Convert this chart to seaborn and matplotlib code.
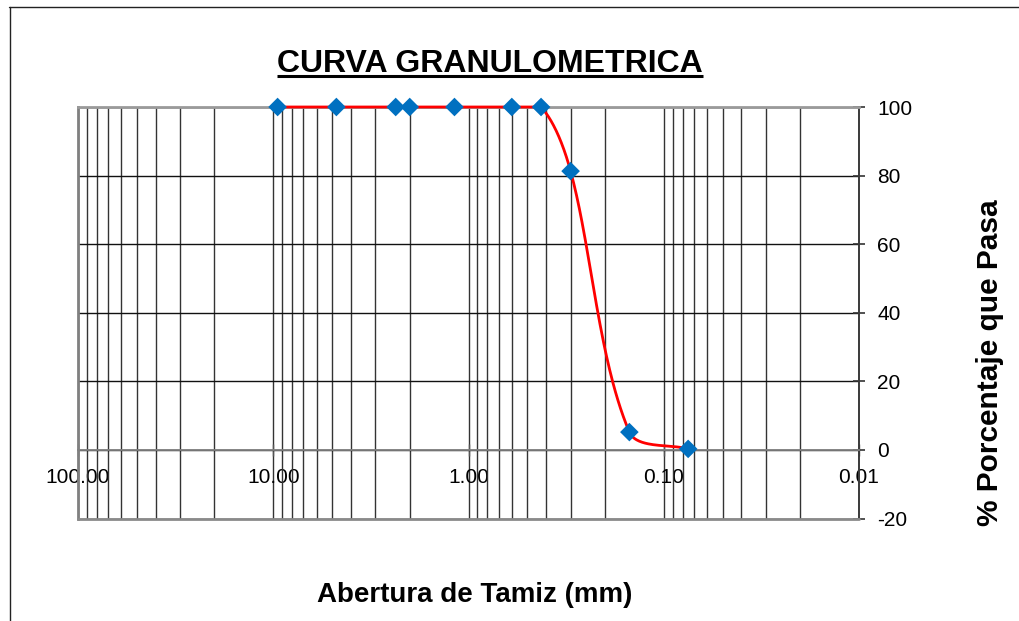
import numpy as np
import matplotlib
matplotlib.use("Agg")
import matplotlib.pyplot as plt
import seaborn as sns
from matplotlib.lines import Line2D
from matplotlib.ticker import FixedLocator, FixedFormatter, LogLocator, NullFormatter

# Sieve analysis results
sieve_mm = [9.5, 4.75, 2.36, 2.00, 1.18, 0.60, 0.425, 0.30, 0.15, 0.075]
pct_passing = [100, 100, 100, 100, 100, 100, 100, 81.3, 5.2, 0.3]

x_ticks = [100, 10, 1, 0.1, 0.01]
x_tick_labels = ["100.00", "10.00", "1.00", "0.10", "0.01"]
y_ticks = [-20, 0, 20, 40, 60, 80, 100]

title_text = "CURVA GRANULOMETRICA"
x_title = "Abertura de Tamiz (mm)"
y_title = "% Porcentaje que Pasa"


def smooth_path(pts, k=0.3, n=60):
    """Cubic Bezier through screen points; tangents follow the neighbouring
    chord, handle length is a fraction of the segment chord, and handles are
    kept within the vertical span of their segment to avoid overshoot."""
    pts = np.asarray(pts, float)
    m = len(pts)
    out = []
    for i in range(m - 1):
        p0 = pts[max(i - 1, 0)]
        p1 = pts[i]
        p2 = pts[i + 1]
        p3 = pts[min(i + 2, m - 1)]
        chord = np.linalg.norm(p2 - p1)
        d1 = p2 - p0
        d2 = p3 - p1
        d1 = d1 / (np.linalg.norm(d1) or 1)
        d2 = d2 / (np.linalg.norm(d2) or 1)
        c1 = p1 + d1 * k * chord
        c2 = p2 - d2 * k * chord
        lo, hi = min(p1[1], p2[1]), max(p1[1], p2[1])
        c1[1] = np.clip(c1[1], lo, hi)
        c2[1] = np.clip(c2[1], lo, hi)
        t = np.linspace(0, 1, n)[:, None]
        seg = ((1 - t) ** 3 * p1 + 3 * (1 - t) ** 2 * t * c1
               + 3 * (1 - t) * t ** 2 * c2 + t ** 3 * p2)
        out.append(seg if i == 0 else seg[1:])
    return np.vstack(out)


sns.set_theme(style="white")
plt.rcParams["font.family"] = ["Liberation Sans", "DejaVu Sans"]
plt.rcParams["axes.unicode_minus"] = False

W, H = 1019, 621
fig = plt.figure(figsize=(W / 100, H / 100), dpi=100)
fig.patch.set_facecolor("white")
ax = fig.add_axes([78 / W, 1 - 518.5 / H, (859 - 78) / W, (518.5 - 107) / H])
ax.set_facecolor("white")

ax.set_xscale("log")
ax.set_xlim(100, 0.01)
ax.set_ylim(-20, 100)

# Smoothed grading curve, built in display space and mapped back to data
data_pts = np.column_stack([sieve_mm, pct_passing])
screen_pts = ax.transData.transform(data_pts)
curve = ax.transData.inverted().transform(smooth_path(screen_pts))

sns.lineplot(x=curve[:, 0], y=curve[:, 1], ax=ax, color="#FF0000", lw=2.0,
             sort=False, estimator=None, zorder=4, clip_on=False)
sns.scatterplot(x=sieve_mm, y=pct_passing, ax=ax, marker="D", s=90,
                color="#0070C0", edgecolor="none", linewidth=0,
                zorder=5, clip_on=False)

ax.set_xscale("log")
ax.set_xlim(100, 0.01)
ax.set_ylim(-20, 100)

# Axes and ticks
ax.xaxis.set_major_locator(FixedLocator(x_ticks))
ax.xaxis.set_major_formatter(FixedFormatter(x_tick_labels))
ax.xaxis.set_minor_locator(LogLocator(base=10, subs=np.arange(2, 10)))
ax.xaxis.set_minor_formatter(NullFormatter())
ax.yaxis.set_major_locator(FixedLocator(y_ticks))
ax.yaxis.tick_right()

ax.spines["bottom"].set_position(("data", 0))
ax.spines["bottom"].set_color("#808080")
ax.spines["bottom"].set_linewidth(1.3)
ax.spines["left"].set_color("#808080")
ax.spines["left"].set_linewidth(2)
ax.spines["top"].set_color("#9a9a9a")
ax.spines["top"].set_linewidth(2)
ax.spines["right"].set_color("#3a3a3a")
ax.spines["right"].set_linewidth(1.4)
ax.axhline(-20, color="#8a8a8a", lw=2, zorder=3, clip_on=False)

ax.tick_params(axis="x", which="major", direction="inout", length=8, width=1,
               color="#555555", pad=9, labelsize=15, labelcolor="black",
               bottom=True)
ax.tick_params(axis="x", which="minor", length=0)
ax.tick_params(axis="y", which="major", direction="inout", length=9, width=1.2,
               color="#333333", pad=8.5, labelsize=15, labelcolor="black",
               right=True, left=False)

ax.grid(True, which="both", axis="x", color="#333333", lw=1.0)
ax.grid(True, which="major", axis="y", color="#111111", lw=1.0)
ax.set_axisbelow(True)
ax.set_xlabel("")
ax.set_ylabel("")

# Titles
t = fig.text(490 / W, 1 - 72 / H, title_text, ha="center", va="baseline",
             fontsize=23, fontweight="bold", color="black")
fig.text(474.5 / W, 1 - 602 / H, x_title, ha="center", va="baseline",
         fontsize=20, fontweight="bold", color="black")
fig.text(990 / W, 1 - 363 / H, y_title, ha="center", va="center",
         rotation=90, fontsize=21.5, fontweight="bold", color="black")

# Underline beneath the title
fig.canvas.draw()
bb = t.get_window_extent(renderer=fig.canvas.get_renderer())
uy = (H - 75.5) / H
fig.add_artist(Line2D([bb.x0 / W, bb.x1 / W], [uy, uy], transform=fig.transFigure,
                      color="black", lw=2.2, solid_capstyle="butt"))

# Chart frame
fig.add_artist(Line2D([9 / W, 1.05], [1 - 6.5 / H] * 2, transform=fig.transFigure,
                      color="#222222", lw=1.0))
fig.add_artist(Line2D([9.5 / W] * 2, [-0.05, 1 - 6.5 / H], transform=fig.transFigure,
                      color="#222222", lw=1.0))

fig.savefig("out.png", dpi=100, facecolor="white")
